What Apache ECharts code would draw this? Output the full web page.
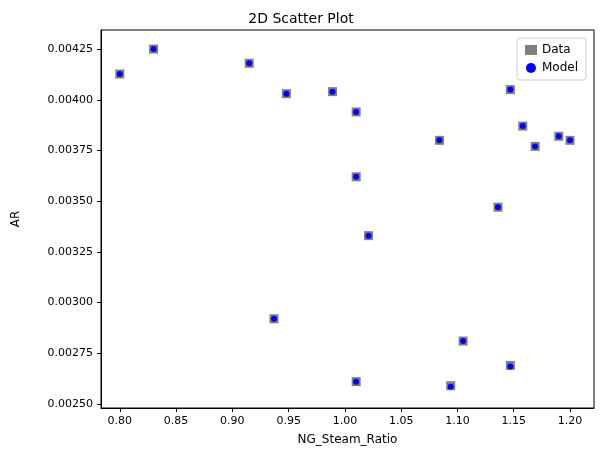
<!DOCTYPE html>
<html><head><meta charset="utf-8">
<script src="https://cdn.jsdelivr.net/npm/echarts@6/dist/echarts.min.js"></script>
<style>html,body{margin:0;padding:0;background:#fff}#c{width:602px;height:455px}</style>
</head><body><div id="c"></div>
<script>
const ngSteamRatio = [0.800,0.830,0.915,0.948,0.989,1.010,1.010,1.021,0.937,1.010,1.084,1.094,1.105,1.136,1.147,1.147,1.158,1.169,1.190,1.200];
const arData =       [0.004127,0.00425,0.00418,0.00403,0.00404,0.00394,0.00362,0.00333,0.00292,0.00261,0.00380,0.00259,0.00281,0.00347,0.00405,0.00269,0.00387,0.00377,0.00382,0.00380];
const arModel =      [0.004127,0.00425,0.00418,0.00403,0.00404,0.00394,0.00362,0.00333,0.00292,0.00261,0.00380,0.002585,0.00281,0.00347,0.00405,0.002685,0.00387,0.00377,0.00382,0.00380];
const xTicks = [0.80,0.85,0.90,0.95,1.00,1.05,1.10,1.15,1.20];
const yTicks = [0.0025,0.00275,0.003,0.00325,0.0035,0.00375,0.004,0.00425];
const font = 'DejaVu Sans';
const chart = echarts.init(document.getElementById('c'));
const axisCommon = {
  axisLine:{show:true,onZero:false,lineStyle:{color:'#000'}},
  axisTick:{show:true,length:4,lineStyle:{color:'#000'}},
  splitLine:{show:false},
  nameLocation:'middle',
  nameTextStyle:{color:'#000',fontFamily:font,fontSize:12}
};
chart.setOption({
  animation:false,
  title:{text:'2D Scatter Plot',left:'center',top:7,textStyle:{fontFamily:font,fontSize:14,fontWeight:'normal',color:'#000'}},
  grid:{left:101,right:8,top:30,bottom:47,show:true,borderColor:'#000',borderWidth:1},
  legend:{right:16,top:38,orient:'vertical',itemGap:6,backgroundColor:'#fff',borderColor:'#ccc',borderWidth:1,borderRadius:3,padding:[6,8],
    textStyle:{fontFamily:font,fontSize:12,color:'#000'},itemWidth:12,itemHeight:10,
    data:[{name:'Data',icon:'rect'},{name:'Model',icon:'circle',itemStyle:{}}]},
  xAxis:Object.assign({},axisCommon,{type:'value',min:0.7833,max:1.2213,name:'NG_Steam_Ratio',nameGap:26,
    axisTick:Object.assign({},axisCommon.axisTick,{customValues:xTicks}),
    axisLabel:{customValues:xTicks,formatter:v=>v.toFixed(2),color:'#000',fontFamily:font,fontSize:11}}),
  yAxis:Object.assign({},axisCommon,{type:'value',min:0.00248,max:0.004344,name:'AR',nameGap:79,
    axisTick:Object.assign({},axisCommon.axisTick,{customValues:yTicks}),
    axisLabel:{customValues:yTicks,formatter:v=>v.toFixed(5),color:'#000',fontFamily:font,fontSize:11}}),
  series:[
    {name:'Data',type:'scatter',symbol:'rect',symbolSize:9,itemStyle:{color:'#7f7f7f',opacity:1},data:ngSteamRatio.map((x,i)=>[x,arData[i]])},
    {name:'Model',type:'scatter',symbol:'circle',symbolSize:6,itemStyle:{color:'#0000ff',opacity:1},data:ngSteamRatio.map((x,i)=>[x,arModel[i]])}
  ]
});
</script></body></html>
